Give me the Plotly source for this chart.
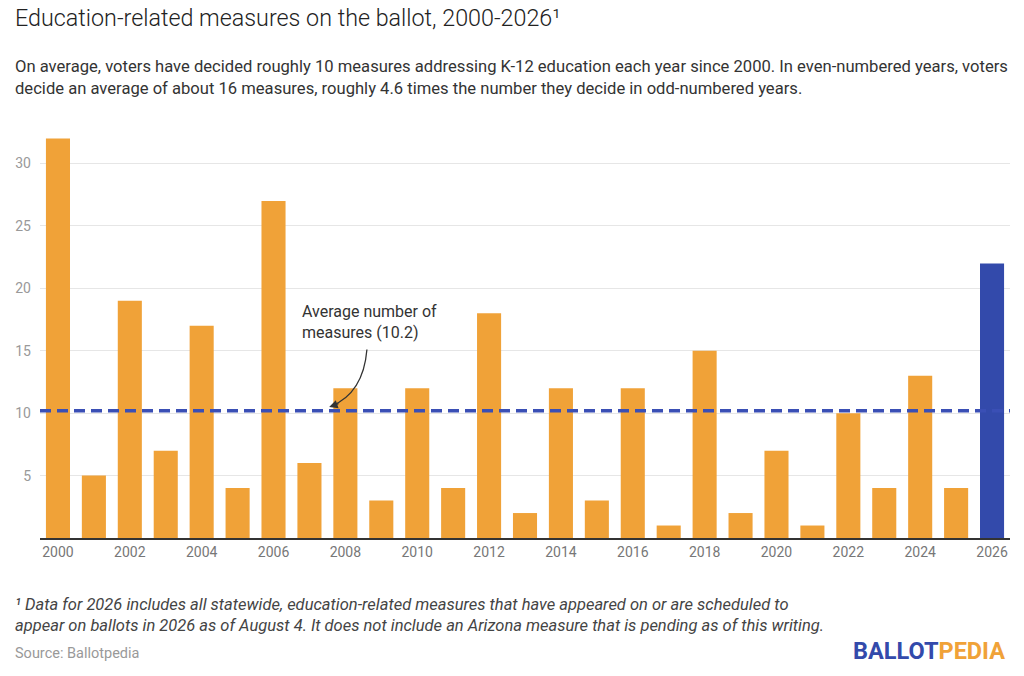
import plotly.graph_objects as go

years = list(range(2000, 2027))
measures = [32, 5, 19, 7, 17, 4, 27, 6, 12, 3, 12, 4, 18, 2, 12, 3, 12, 1,
            15, 2, 7, 1, 10, 4, 13, 4, 22]
average = 10.2
partial_year = 2026
tick_years = list(range(2000, 2027, 2))

ORANGE = "#f0a238"
BLUE = "#334aab"
FONT = "Roboto"

colors = [BLUE if y == partial_year else ORANGE for y in years]

fig = go.Figure()
fig.add_trace(
    go.Bar(
        x=years,
        y=measures,
        marker=dict(color=colors, line=dict(width=0)),
        hovertemplate="%{x}: %{y}<extra></extra>",
    )
)

# average line across the whole plot
fig.add_shape(
    type="line",
    xref="paper", x0=0, x1=1,
    yref="y", y0=average, y1=average,
    line=dict(color="#3a4fb5", width=3.5, dash="11px,6px"),
    layer="above",
)

# curved pointer from the label down to the average line
fig.add_shape(
    type="path",
    path="M 2008.6,15.1 Q 2008.5,11.6 2007.6,10.55",
    line=dict(color="#333333", width=1.3),
)
fig.add_annotation(
    x=2007.55, y=10.5, xref="x", yref="y",
    ax=2007.85, ay=10.8, axref="x", ayref="y",
    text="", showarrow=True, arrowhead=2, arrowsize=1.3,
    arrowwidth=1.3, arrowcolor="#333333",
)
fig.add_annotation(
    x=2006.75, y=17.3, xref="x", yref="y",
    text="Average number of<br>measures (10.2)",
    showarrow=False, xanchor="left", yanchor="middle", align="left",
    font=dict(family=FONT, size=16, color="#333333"),
)

# title, subtitle, notes (positions in pixels from the bottom-left, converted below)
fig.add_annotation(
    x=13, y=676 - 18, xref="paper", yref="paper",
    text="Education-related measures on the ballot, 2000-2026¹",
    showarrow=False, xanchor="left", yanchor="middle",
    font=dict(family=FONT, size=23.3, color="#222222", weight=300),
)
fig.add_annotation(
    x=13, y=676 - 77, xref="paper", yref="paper",
    text=("On average, voters have decided roughly 10 measures addressing K-12 "
          "education each year since 2000. In even-numbered years, voters<br>"
          "decide an average of about 16 measures, roughly 4.6 times the number "
          "they decide in odd-numbered years."),
    showarrow=False, xanchor="left", yanchor="middle", align="left",
    font=dict(family=FONT, size=16.6, color="#333333"),
)
fig.add_annotation(
    x=13, y=676 - 615, xref="paper", yref="paper",
    text=("<i>¹ Data for 2026 includes all statewide, education-related measures "
          "that have appeared on or are scheduled to<br>"
          "appear on ballots in 2026 as of August 4. It does not include an "
          "Arizona measure that is pending as of this writing.</i>"),
    showarrow=False, xanchor="left", yanchor="middle", align="left",
    font=dict(family=FONT, size=16.5, color="#444444"),
)
fig.add_annotation(
    x=13, y=676 - 653, xref="paper", yref="paper",
    text="Source: Ballotpedia",
    showarrow=False, xanchor="left", yanchor="middle",
    font=dict(family=FONT, size=14.5, color="#999999"),
)
fig.add_annotation(
    x=1007, y=676 - 651, xref="paper", yref="paper",
    text=f"<b><span style='color:{BLUE}'>BALLOT</span>"
         f"<span style='color:{ORANGE}'>PEDIA</span></b>",
    showarrow=False, xanchor="right", yanchor="middle",
    font=dict(family=FONT, size=23.5),
)

fig.update_layout(
    width=1024,
    height=676,
    margin=dict(l=40, r=14, t=133, b=138),
    plot_bgcolor="white",
    paper_bgcolor="white",
    bargap=0.33,
    showlegend=False,
    font=dict(family=FONT),
    xaxis=dict(
        range=[1999.5, 2026.5],
        tickvals=tick_years,
        ticktext=[str(y) for y in tick_years],
        showgrid=False,
        showline=True,
        linecolor="#333333",
        linewidth=1.5,
        ticks="",
        tickfont=dict(family=FONT, size=14, color="#777777"),
        fixedrange=True,
    ),
    yaxis=dict(
        range=[0, 32.45],
        tickvals=[5, 10, 15, 20, 25, 30],
        showgrid=True,
        gridcolor="#e6e6e6",
        gridwidth=1,
        zeroline=False,
        ticks="",
        ticklabelstandoff=8,
        tickfont=dict(family=FONT, size=14, color="#999999"),
        fixedrange=True,
    ),
)

# annotations above were given in pixels; convert them to paper fractions
plot_w = 1024 - 40 - 14
plot_h = 676 - 133 - 138
for ann in fig.layout.annotations:
    if ann.xref == "paper":
        ann.x = (ann.x - 40) / plot_w
        ann.y = (ann.y - 138) / plot_h

# drop the browser's default body margin so the figure sits at the corner
fig.write_html(
    "out.html",
    config={"displayModeBar": False},
    post_script="document.body.style.margin = '0';",
)
